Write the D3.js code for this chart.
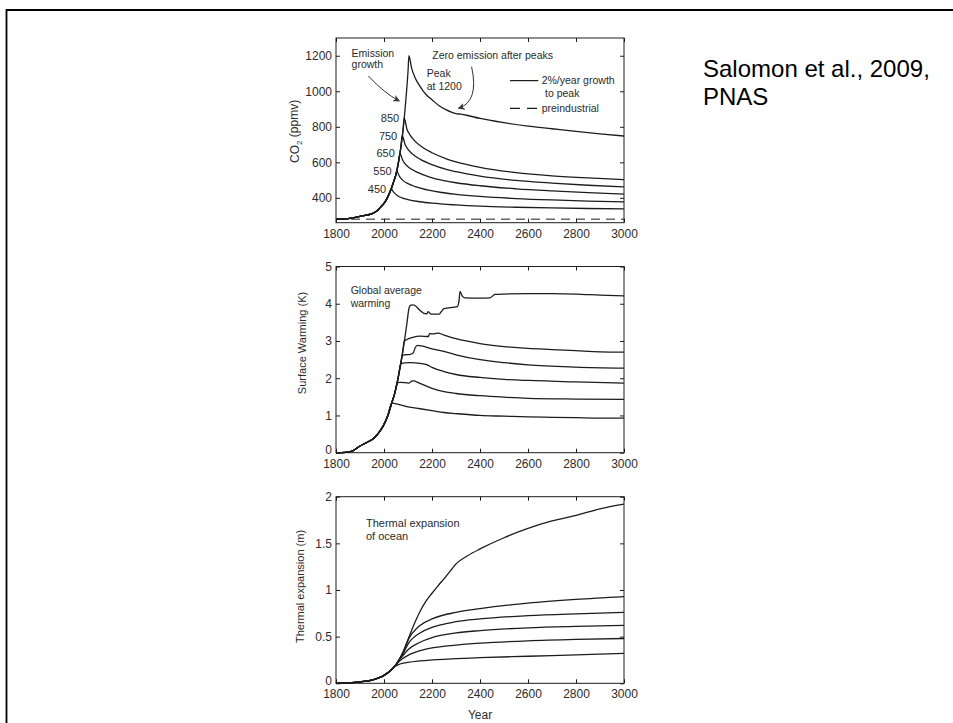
<!DOCTYPE html>
<html>
<head>
<meta charset="utf-8">
<script src="https://cdn.jsdelivr.net/npm/d3@7"></script>
<style>
  body { margin: 0; background: #fff; }
  svg { display: block; font-family: "Liberation Sans", Arial, Helvetica, sans-serif; }
</style>
</head>
<body>
<svg id="chart" width="953" height="723"></svg>
<script>
// ---- Scenarios: CO2 peak concentration (ppmv) reached with 2%/yr emission growth ----
const scenarioNames = ["450", "550", "650", "750", "850", "1200"];
const peakCO2 = [450, 550, 650, 750, 850, 1200];
const peakYear = [2030, 2053, 2066, 2076, 2084, 2104];

// Shared emission-growth path of CO2
const co2GrowthYears  = [1800, 1850, 1900, 1950, 1970, 1990, 2000, 2010, 2020, 2030, 2040, 2050, 2060, 2070, 2080, 2090, 2100];
const co2GrowthValues = [280, 283, 296, 311, 326, 354, 369, 390, 417, 450, 490, 532, 598, 682, 790, 935, 1110];

// CO2 after emissions stop at the peak
const co2AfterYears = [
  [2040, 2055, 2075, 2100, 2150, 2200, 2300, 2400, 2550, 2700, 2850, 3000],
  [2065, 2080, 2100, 2130, 2180, 2240, 2300, 2400, 2550, 2700, 2850, 3000],
  [2078, 2090, 2110, 2140, 2190, 2250, 2300, 2400, 2550, 2700, 2850, 3000],
  [2088, 2100, 2120, 2150, 2200, 2260, 2300, 2400, 2550, 2700, 2850, 3000],
  [2096, 2108, 2130, 2160, 2200, 2260, 2300, 2400, 2550, 2700, 2850, 3000],
  [2115, 2130, 2150, 2175, 2200, 2230, 2260, 2300, 2320, 2345, 2400, 2500, 2600, 2700, 2800, 2900, 3000]
];
const co2AfterValues = [
  [432, 413, 400, 390, 378, 370, 360, 353, 347, 343, 340, 338],
  [520, 497, 480, 463, 445, 430, 420, 408, 396, 388, 382, 377],
  [612, 588, 565, 543, 517, 497, 485, 468, 451, 439, 429, 421],
  [700, 673, 645, 618, 587, 560, 547, 522, 498, 483, 471, 462],
  [785, 755, 718, 685, 654, 620, 603, 572, 542, 524, 512, 503],
  [1130, 1075, 1028, 982, 952, 918, 895, 874, 871, 865, 847, 823, 804, 789, 774, 760, 748]
];
const preindustrialCO2 = 280;

// Global average surface warming (K)
const warmGrowthYears  = [1800, 1840, 1870, 1900, 1930, 1960, 1980, 2000, 2015, 2032, 2045, 2055, 2062, 2070, 2076, 2085, 2095, 2105];
const warmGrowthValues = [0, 0.01, 0.05, 0.18, 0.28, 0.4, 0.55, 0.76, 0.98, 1.33, 1.6, 1.88, 2.12, 2.4, 2.62, 3.0, 3.45, 3.9];
const warmBranchYear = [2032, 2055, 2070, 2076, 2085, 2105];
const warmAfterYears = [
  [2045, 2060, 2100, 2150, 2200, 2250, 2300, 2400, 2500, 2600, 2700, 2800, 2900, 3000],
  [2070, 2090, 2105, 2115, 2125, 2140, 2170, 2200, 2250, 2300, 2400, 2500, 2600, 2800, 3000],
  [2085, 2110, 2150, 2180, 2200, 2250, 2300, 2400, 2500, 2600, 2800, 3000],
  [2090, 2110, 2122, 2130, 2140, 2155, 2200, 2250, 2300, 2400, 2500, 2600, 2800, 3000],
  [2095, 2120, 2150, 2185, 2190, 2200, 2225, 2250, 2300, 2400, 2500, 2600, 2700, 2800, 2900, 3000],
  [2112, 2122, 2135, 2150, 2164, 2178, 2184, 2192, 2200, 2230, 2240, 2250, 2305, 2312, 2317, 2325, 2337, 2400, 2442, 2462, 2500, 2600, 2700, 2800, 2900, 3000]
];
const warmAfterValues = [
  [1.32, 1.3, 1.23, 1.18, 1.13, 1.08, 1.05, 1.0, 0.98, 0.96, 0.95, 0.94, 0.93, 0.93],
  [1.89, 1.88, 1.87, 1.92, 1.93, 1.89, 1.81, 1.73, 1.64, 1.59, 1.53, 1.49, 1.46, 1.44, 1.43],
  [2.41, 2.42, 2.4, 2.36, 2.29, 2.18, 2.1, 2.02, 1.97, 1.94, 1.9, 1.87],
  [2.63, 2.64, 2.68, 2.82, 2.88, 2.87, 2.79, 2.72, 2.63, 2.5, 2.42, 2.36, 2.3, 2.27],
  [3.04, 3.1, 3.13, 3.12, 3.2, 3.19, 3.21, 3.16, 3.06, 2.93, 2.85, 2.8, 2.77, 2.74, 2.71, 2.7],
  [3.96, 3.97, 3.92, 3.82, 3.75, 3.73, 3.79, 3.74, 3.72, 3.72, 3.8, 3.87, 3.92, 4.05, 4.33, 4.22, 4.16, 4.15, 4.16, 4.25, 4.26, 4.27, 4.27, 4.26, 4.23, 4.21]
];

// Thermal expansion of ocean (m)
const thermGrowthYears  = [1800, 1850, 1900, 1950, 1980, 2000, 2020, 2040, 2050, 2060];
const thermGrowthValues = [0, 0.005, 0.015, 0.035, 0.06, 0.085, 0.12, 0.17, 0.2, 0.24];
const thermBranchYear = [2040, 2050, 2060, 2060, 2060, 2060];
const thermAfterYears = [
  [2060, 2080, 2100, 2150, 2200, 2300, 2400, 2600, 2800, 3000],
  [2075, 2100, 2150, 2200, 2300, 2400, 2600, 2800, 3000],
  [2080, 2100, 2150, 2200, 2300, 2400, 2600, 2800, 3000],
  [2080, 2100, 2150, 2200, 2300, 2400, 2600, 2800, 3000],
  [2080, 2100, 2150, 2200, 2300, 2400, 2600, 2800, 3000],
  [2080, 2100, 2125, 2150, 2175, 2200, 2225, 2250, 2275, 2300, 2350, 2400, 2500, 2600, 2700, 2800, 2900, 3000]
];
const thermAfterValues = [
  [0.2, 0.215, 0.225, 0.24, 0.25, 0.265, 0.275, 0.29, 0.305, 0.32],
  [0.26, 0.3, 0.35, 0.38, 0.41, 0.43, 0.455, 0.47, 0.48],
  [0.3, 0.36, 0.44, 0.49, 0.54, 0.565, 0.595, 0.61, 0.62],
  [0.32, 0.42, 0.54, 0.6, 0.66, 0.69, 0.725, 0.745, 0.76],
  [0.33, 0.46, 0.62, 0.69, 0.76, 0.8, 0.86, 0.9, 0.93],
  [0.34, 0.47, 0.63, 0.77, 0.88, 0.965, 1.045, 1.12, 1.2, 1.28, 1.37, 1.44, 1.56, 1.66, 1.74, 1.8, 1.87, 1.92]
];

// Axis ticks
const yearTicks = [1800, 2000, 2200, 2400, 2600, 2800, 3000];
const co2Ticks = [400, 600, 800, 1000, 1200];
const warmTicks = [0, 1, 2, 3, 4, 5];
const thermTicks = [0, 0.5, 1, 1.5, 2];

// ---- Layout ----
const svg = d3.select("#chart");
const ink = "#1c1c1c";
const textInk = "#2b2b2b";

// page frame (top and left rules)
svg.append("line").attr("x1", 6).attr("x2", 953).attr("y1", 10).attr("y2", 10)
  .attr("stroke", "#000").attr("stroke-width", 2);
svg.append("line").attr("x1", 6.5).attr("x2", 6.5).attr("y1", 9).attr("y2", 723)
  .attr("stroke", "#000").attr("stroke-width", 1.8);

// citation
const cite = svg.append("text").attr("x", 703).attr("y", 77)
  .attr("font-size", 24).attr("fill", "#000");
cite.append("tspan").attr("x", 703).text("Salomon et al., 2009,");
cite.append("tspan").attr("x", 703).attr("dy", 28).text("PNAS");

const x = d3.scaleLinear().domain([1800, 3000]).range([336, 624]);

const panels = [
  { top: 38, bottom: 222.7, domain: [260, 1300], ticks: co2Ticks, labelPad: 6.5 },
  { top: 266.5, bottom: 452.7, domain: [0, 5], ticks: warmTicks, labelPad: 6.5 },
  { top: 496.7, bottom: 683.3, domain: [0, 2], ticks: thermTicks, labelPad: 6.5 }
];

const arrowMarker = svg.append("defs").append("marker")
  .attr("id", "arrowhead").attr("viewBox", "0 0 10 10")
  .attr("refX", 9).attr("refY", 5)
  .attr("markerWidth", 7).attr("markerHeight", 7)
  .attr("markerUnits", "userSpaceOnUse")
  .attr("orient", "auto");
arrowMarker.append("path").attr("d", "M0,0 L10,5 L0,10 L3,5 Z").attr("fill", "#333");

function drawPanel(p) {
  const y = d3.scaleLinear().domain(p.domain).range([p.bottom, p.top]);
  const g = svg.append("g");
  const fmt = d => String(d);

  const bottom = g.append("g").attr("transform", `translate(0,${p.bottom})`)
    .call(d3.axisBottom(x).tickValues(yearTicks).tickSize(-4).tickPadding(p.labelPad).tickFormat(fmt));
  const top = g.append("g").attr("transform", `translate(0,${p.top})`)
    .call(d3.axisTop(x).tickValues(yearTicks).tickSize(-4).tickFormat(""));
  const left = g.append("g").attr("transform", `translate(${x.range()[0]},0)`)
    .call(d3.axisLeft(y).tickValues(p.ticks).tickSize(-4).tickPadding(4).tickFormat(fmt));
  const right = g.append("g").attr("transform", `translate(${x.range()[1]},0)`)
    .call(d3.axisRight(y).tickValues(p.ticks).tickSize(-4).tickFormat(""));

  [bottom, top, left, right].forEach(a => {
    a.select(".domain").remove();
    a.selectAll("line").attr("stroke", ink).attr("stroke-width", 1);
    a.selectAll("text").attr("font-size", 12).attr("fill", textInk)
      .attr("font-family", null);
  });
  // the zero label sits a little above the corner so it clears the year labels
  left.selectAll(".tick text").filter(d => d === 0).attr("dy", "0.1em");

  g.append("rect")
    .attr("x", x.range()[0]).attr("y", p.top)
    .attr("width", x.range()[1] - x.range()[0]).attr("height", p.bottom - p.top)
    .attr("fill", "none").attr("stroke", ink).attr("stroke-width", 1);

  return { g, y };
}

const line = (y) => d3.line().x(d => x(d[0])).y(d => y(d[1])).curve(d3.curveMonotoneX);

function drawSeries(g, y, series) {
  g.selectAll("path.series").data(series).join("path")
    .attr("class", "series")
    .attr("d", line(y))
    .attr("fill", "none").attr("stroke", ink).attr("stroke-width", 1.3)
    .attr("stroke-linejoin", "round");
}

function addText(g, px, py, lines, size, lineGap) {
  const t = g.append("text").attr("x", px).attr("y", py)
    .attr("font-size", size).attr("fill", textInk).attr("dy", "0.35em");
  lines.forEach((s, i) => t.append("tspan").attr("x", px).attr("dy", i === 0 ? "0.35em" : lineGap).text(s));
  return t;
}

function addArrow(g, y, pts) {
  const [s, c, e] = pts.map(d => [x(d[0]), y(d[1])]);
  g.append("path")
    .attr("d", `M${s[0]},${s[1]} Q${c[0]},${c[1]} ${e[0]},${e[1]}`)
    .attr("fill", "none").attr("stroke", "#333").attr("stroke-width", 1)
    .attr("marker-end", "url(#arrowhead)");
}

// ---- Panel 1: CO2 ----
{
  const { g, y } = drawPanel(panels[0]);
  const series = scenarioNames.map((_, i) => {
    const pts = co2GrowthYears.map((yr, j) => [yr, co2GrowthValues[j]]).filter(d => d[0] < peakYear[i]);
    pts.push([peakYear[i], peakCO2[i]]);
    co2AfterYears[i].forEach((yr, j) => pts.push([yr, co2AfterValues[i][j]]));
    return pts;
  });
  drawSeries(g, y, series);

  g.append("line")
    .attr("x1", x(1800)).attr("x2", x(3000))
    .attr("y1", y(preindustrialCO2)).attr("y2", y(preindustrialCO2))
    .attr("stroke", ink).attr("stroke-width", 1).attr("stroke-dasharray", "9,6");

  // peak labels
  scenarioNames.slice(0, 5).forEach((name, i) => {
    g.append("text").attr("x", x(peakYear[i]) - 5).attr("y", y(peakCO2[i]))
      .attr("dy", "0.35em").attr("text-anchor", "end")
      .attr("font-size", 11).attr("fill", textInk).text(name);
  });

  addText(g, x(1865), y(1214), ["Emission", "growth"], 10.5, 11);
  addText(g, x(2201), y(1204), ["Zero emission after peaks"], 10.5, 11);
  addText(g, x(2178), y(1101), ["Peak", "at 1200"], 10.5, 13.4);
  addArrow(g, y, [[1935, 1086], [2001, 989], [2064, 945]]);
  addArrow(g, y, [[2365, 1138], [2397, 941], [2310, 904]]);

  // legend
  g.append("line").attr("x1", 510).attr("x2", 538.3).attr("y1", y(1060)).attr("y2", y(1060))
    .attr("stroke", ink).attr("stroke-width", 1.2);
  g.append("line").attr("x1", 510).attr("x2", 538.3).attr("y1", y(904)).attr("y2", y(904))
    .attr("stroke", ink).attr("stroke-width", 1.2).attr("stroke-dasharray", "10,7");
  addText(g, 541.7, y(1060), ["2%/year growth"], 10.5, 11);
  addText(g, 545, y(989), ["to peak"], 10.5, 11);
  addText(g, 541.7, y(904), ["preindustrial"], 10.5, 11);

  const title = g.append("text")
    .attr("transform", `translate(295,${(panels[0].top + panels[0].bottom) / 2 + 1}) rotate(-90)`)
    .attr("text-anchor", "middle").attr("dy", "0.35em")
    .attr("font-size", 12).attr("fill", textInk);
  title.append("tspan").text("CO");
  title.append("tspan").attr("font-size", 8).attr("dy", "0.3em").text("2");
  title.append("tspan").attr("dy", "-0.3em").text(" (ppmv)");
}

// ---- Panel 2: surface warming ----
{
  const { g, y } = drawPanel(panels[1]);
  const series = scenarioNames.map((_, i) => {
    const pts = warmGrowthYears.map((yr, j) => [yr, warmGrowthValues[j]]).filter(d => d[0] <= warmBranchYear[i]);
    warmAfterYears[i].forEach((yr, j) => pts.push([yr, warmAfterValues[i][j]]));
    return pts;
  });
  drawSeries(g, y, series);
  addText(g, x(1861), y(4.37), ["Global average", "warming"], 10.5, 13);
  g.append("text")
    .attr("transform", `translate(302,343) rotate(-90)`)
    .attr("text-anchor", "middle").attr("dy", "0.35em")
    .attr("font-size", 11).attr("fill", textInk).text("Surface Warming (K)");
}

// ---- Panel 3: thermal expansion ----
{
  const { g, y } = drawPanel(panels[2]);
  const series = scenarioNames.map((_, i) => {
    const pts = thermGrowthYears.map((yr, j) => [yr, thermGrowthValues[j]]).filter(d => d[0] <= thermBranchYear[i]);
    thermAfterYears[i].forEach((yr, j) => pts.push([yr, thermAfterValues[i][j]]));
    return pts;
  });
  drawSeries(g, y, series);
  addText(g, x(1925), y(1.715), ["Thermal expansion", "of ocean"], 11, 12.7);
  g.append("text")
    .attr("transform", `translate(300,586.5) rotate(-90)`)
    .attr("text-anchor", "middle").attr("dy", "0.35em")
    .attr("font-size", 11).attr("fill", textInk).text("Thermal expansion (m)");
  g.append("text").attr("x", 480).attr("y", 715).attr("dy", "0.35em")
    .attr("text-anchor", "middle").attr("font-size", 12).attr("fill", textInk).text("Year");
}
</script>
</body>
</html>
